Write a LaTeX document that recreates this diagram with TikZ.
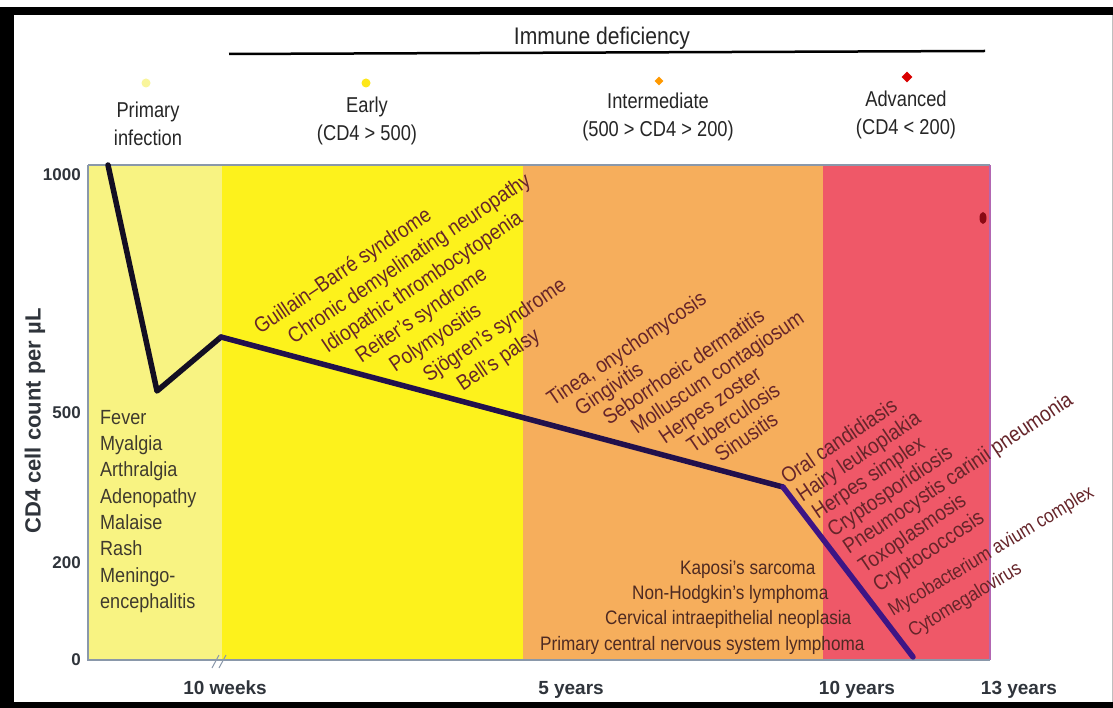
\documentclass[tikz,border=0pt]{standalone}
\usepackage{fontspec}
\setmainfont{Liberation Sans}
\newfontfamily\nar[FakeStretch=0.88]{Liberation Sans}
\newfontfamily\hdrf[FakeStretch=0.85]{Liberation Sans}
\usetikzlibrary{shapes.geometric}
\definecolor{cPri}{HTML}{F8F382}
\definecolor{cEarly}{HTML}{FDF21C}
\definecolor{cInt}{HTML}{F6AE5C}
\definecolor{cAdv}{HTML}{EF5868}
\definecolor{dis}{HTML}{66252A}
\definecolor{feverc}{HTML}{3F3A2E}
\definecolor{kapc}{HTML}{4E2A22}
\definecolor{hdrc}{HTML}{262626}
\definecolor{tickc}{HTML}{2F343B}
\definecolor{axisc}{HTML}{8A98AA}
\definecolor{curveA}{HTML}{130E22}
\definecolor{curveB}{HTML}{22104C}
\definecolor{curveC}{HTML}{3D1585}
\definecolor{smudge}{HTML}{8A0A14}
\tikzset{
  hdr/.style={font=\hdrf\fontsize{21.5}{28}\selectfont, text=hdrc, align=center, inner sep=0},
  disbase/.style={text=dis, anchor=base west, inner sep=0},
  dis/.style={disbase, font=\nar\fontsize{21.5}{24}\selectfont, rotate=34},
  dislow/.style={disbase, font=\nar\fontsize{19.5}{24}\selectfont, rotate=31},
  kap/.style={font=\nar\fontsize{19.5}{24}\selectfont, text=kapc, anchor=base west, inner sep=0},
  fever/.style={font=\nar\fontsize{20.5}{26.3}\selectfont, text=feverc, align=left, anchor=north west, inner sep=0},
  ytick/.style={font=\bfseries\fontsize{17}{20}\selectfont, text=tickc, anchor=east, inner sep=0},
  xlab/.style={font=\bfseries\fontsize{19}{22}\selectfont, text=tickc, anchor=base, inner sep=0},
  curve/.style={line width=5.5pt, line join=round, line cap=round},
  marker/.style={inner sep=0, minimum size=9pt}
}
\begin{document}
\begin{tikzpicture}[x=1pt,y=-1pt]
\useasboundingbox (0,0) rectangle (1113,708);
\fill[white] (0,0) rectangle (1113,708);
% frame
\fill[black] (0,7) rectangle (1113,15);
\fill[black] (0,7) rectangle (14,708);
\fill[black] (0,702) rectangle (1113,708);
\draw[gray!50, line width=1pt] (1112,15) -- (1112,702);

% bands
\fill[cPri] (88,165) rectangle (222,660);
\fill[cEarly] (222,165) rectangle (523,660);
\fill[cInt] (523,165) rectangle (823,660);
\fill[cAdv] (823,165) rectangle (990,660);
\draw[axisc, line width=1.3pt] (88,165) -- (990,165);
\draw[violet!60, line width=1.2pt] (990,165) -- (990,660);
\draw[axisc, line width=1.3pt] (88,165) -- (88,660) -- (990,660);
% axis break
\draw[axisc, line width=1pt] (212,668) -- (219,655) (219,668) -- (226,655);

% smudge
\fill[smudge] (983,218) ellipse (3.5 and 6);

% header
\node[hdr, font=\nar\fontsize{24}{28}\selectfont] (imm) at (602,38) {Immune deficiency};
\coordinate (hl) at (229,54);
\coordinate (hr) at (985,51);
\draw[black, line width=2.5pt] (hl) -- (hr);

\node[marker, circle, fill=cPri!80] (m1) at (146,83) {};
\node[marker, circle, fill=cEarly!90!orange] (m2) at (366,83) {};
\node[marker, diamond, fill=orange!80!yellow] (m3) at (659,81) {};
\node[marker, diamond, fill=red!85!black, minimum size=11pt] (m4) at (907,77) {};

\node[hdr] (hpri) at (148,124) {Primary\\infection};
\node[hdr] (hear) at (367,121) {Early\\(CD4 > 500)};
\node[hdr] (hint) at (658,117) {Intermediate\\(500 > CD4 > 200)};
\node[hdr] (hadv) at (906,115) {Advanced\\(CD4 < 200)};

% y axis
\node[ytick] (t1000) at (81,175) {1000};
\node[ytick] (t500) at (81,413) {500};
\node[ytick] (t200) at (81,563) {200};
\node[ytick] (t0) at (81,660) {0};
\node[font=\bfseries\fontsize{22}{24}\selectfont, text=tickc, rotate=90, inner sep=0] (ylab) at (35,421) {CD4 cell count per µL};

% x axis
\node[xlab] (x1) at (225,694) {10 weeks};
\node[xlab] (x2) at (571,694) {5 years};
\node[xlab] (x3) at (857,694) {10 years};
\node[xlab] (x4) at (1019,694) {13 years};

% curve
\coordinate (c0) at (108,165);
\coordinate (c1) at (157,391);
\coordinate (c2) at (221,337);
\coordinate (c3) at (783,487);
\coordinate (c4) at (913,657);
\draw[curve, curveA] (c0) -- (c1) -- (c2);
\draw[curve, curveB] (c2) -- (c3);
\draw[curve, curveC] (c3) -- (c4);

% primary infection list
\node[fever] (fev) at (100,410) {Fever\\Myalgia\\Arthralgia\\Adenopathy\\Malaise\\Rash\\Meningo-\\encephalitis};

% early
\node[dis] (e0) at (260,335) {Guillain–Barré syndrome};
\node[dis] (e1) at (293.8,344.5) {Chronic demyelinating neuropathy};
\node[dis] (e2) at (327.6,354) {Idiopathic thrombocytopenia};
\node[dis] (e3) at (361.4,363.5) {Reiter’s syndrome};
\node[dis] (e4) at (395.2,373) {Polymyositis};
\node[dis] (e5) at (429,382.5) {Sjögren’s syndrome};
\node[dis] (e6) at (462.8,392) {Bell’s palsy};

% intermediate
\node[dis] (i0) at (553,407) {Tinea, onychomycosis};
\node[dis] (i1) at (581,416.3) {Gingivitis};
\node[dis] (i2) at (609,425.6) {Seborrhoeic dermatitis};
\node[dis] (i3) at (637,434.9) {Molluscum contagiosum};
\node[dis] (i4) at (665,444.2) {Herpes zoster};
\node[dis] (i5) at (693,453.5) {Tuberculosis};
\node[dis] (i6) at (721,462.8) {Sinusitis};

% advanced
\node[dis] (a0) at (787,485) {Oral candidiasis};
\node[dis] (a1) at (802.5,502.5) {Hairy leukoplakia};
\node[dis] (a2) at (818,520) {Herpes simplex};
\node[dis] (a3) at (833.5,537.5) {Cryptosporidiosis};
\node[dis] (a4) at (849,555) {Pneumocystis carinii pneumonia};
\node[dis] (a5) at (864.5,573.5) {Toxoplasmosis};
\node[dis] (a6) at (879,593) {Cryptococcosis};
\node[dislow] (a7) at (893,617) {Mycobacterium avium complex};
\node[dislow] (a8) at (913,638) {Cytomegalovirus};

% tumours
\node[kap] (k0) at (680,574) {Kaposi’s sarcoma};
\node[kap] (k1) at (632,599) {Non-Hodgkin’s lymphoma};
\node[kap] (k2) at (605,624) {Cervical intraepithelial neoplasia};
\node[kap] (k3) at (540,650) {Primary central nervous system lymphoma};
\end{tikzpicture}
\end{document}
